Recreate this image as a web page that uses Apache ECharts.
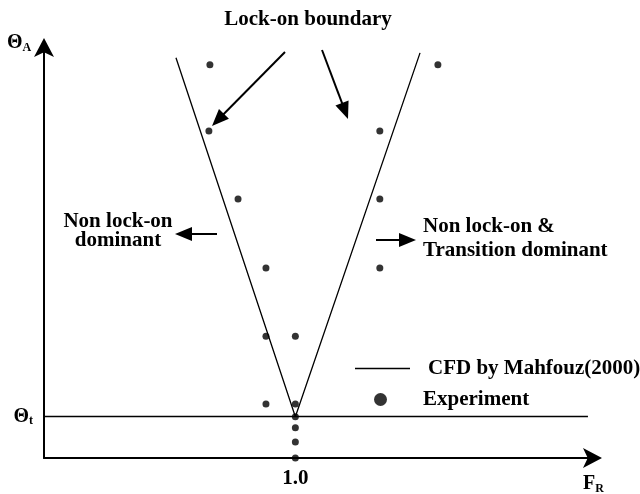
<!DOCTYPE html>
<html><head><meta charset="utf-8">
<script src="https://cdn.jsdelivr.net/npm/echarts@6/dist/echarts.min.js"></script>
<style>html,body{margin:0;padding:0;background:#fff}#c{width:640px;height:494px}</style>
</head><body><div id="c"></div>
<script>
// CFD lock-on boundary (V shape): [F_R, theta]
const cfdFR = [0.525, 1.0, 1.496];
const cfdTheta = [9.69, 1.0, 9.81];
// Experiment points
const expFR = [0.66, 1.567, 0.656, 1.336, 0.772, 1.336, 0.883, 1.336, 0.883, 1.0, 0.883, 1.0, 1.0, 1.0, 1.0, 1.0];
const expTheta = [9.52, 9.52, 7.92, 7.92, 6.27, 6.27, 4.6, 4.6, 2.95, 2.95, 1.31, 1.31, 1.0, 0.73, 0.39, 0.0];
const thetaT = 1.0;
const xTickLabel = '1.0';

const font = '"Liberation Serif", "Times New Roman", serif';
const chart = echarts.init(document.getElementById('c'));

function arrow(x1, y1, x2, y2) {
  const dx = x2 - x1, dy = y2 - y1, L = Math.hypot(dx, dy);
  const ux = dx / L, uy = dy / L, hl = 17, hw = 7;
  const bx = x2 - ux * hl, by = y2 - uy * hl;
  return [
    {type: 'line', shape: {x1, y1, x2: bx + ux * 2, y2: by + uy * 2}, style: {stroke: '#000', lineWidth: 2}},
    {type: 'polygon', shape: {points: [[x2, y2], [bx - uy * hw, by + ux * hw], [bx + uy * hw, by - ux * hw]]}, style: {fill: '#000'}}
  ];
}
const txt = (x, y, t, align) => ({type: 'text', x, y, style: {text: t, font: 'bold 21px ' + font, fill: '#000', align: align || 'center', verticalAlign: 'middle'}});
const legendText = (pl) => ({fontFamily: font, fontWeight: 'bold', fontSize: 21, color: '#000', padding: [0, 0, 0, pl]});

chart.setOption({
  animation: false,
  backgroundColor: '#fff',
  grid: {left: 44, right: 43, top: 45, bottom: 36, containLabel: false},
  xAxis: {
    type: 'value', min: 0, max: 2.2, interval: 0.5,
    splitLine: {show: false}, axisTick: {show: false},
    axisLine: {lineStyle: {color: '#000', width: 2}, symbol: ['none', 'arrow'], symbolSize: [15, 19], symbolOffset: [0, 5]},
    axisLabel: {
      customValues: [1.0],
      formatter: v => Math.abs(v - 1) < 1e-9 ? xTickLabel : '',
      color: '#000', fontFamily: font, fontWeight: 'bold', fontSize: 21, margin: 10
    }
  },
  yAxis: {
    type: 'value', min: 0, max: 10, interval: 1,
    splitLine: {show: false}, axisTick: {show: false},
    axisLine: {lineStyle: {color: '#000', width: 2}, symbol: ['none', 'arrow'], symbolSize: [15, 19], symbolOffset: [0, 7]},
    axisLabel: {
      formatter: v => Math.abs(v - thetaT) < 1e-9 ? '{a|Θ}{s|t}' : '',
      margin: 11,
      rich: {
        a: {fontFamily: font, fontWeight: 'bold', fontSize: 20, color: '#000'},
        s: {fontFamily: font, fontWeight: 'bold', fontSize: 12, color: '#000', padding: [9, 0, 0, 0]}
      }
    }
  },
  legend: [
    {
      orient: 'vertical', left: 350, top: 353, itemWidth: 55, itemHeight: 1.5,
      data: [{name: 'CFD by Mahfouz(2000)', icon: 'rect'}],
      textStyle: legendText(13)
    },
    {
      orient: 'vertical', left: 369, top: 384, itemWidth: 55, itemHeight: 13,
      data: [{name: 'Experiment', icon: 'circle'}],
      textStyle: legendText(10)
    }
  ],
  series: [
    {
      name: 'CFD by Mahfouz(2000)', type: 'line', symbol: 'none',
      data: cfdFR.map((x, i) => [x, cfdTheta[i]]),
      lineStyle: {color: '#000', width: 1.3}, itemStyle: {color: '#000'},
      markLine: {
        silent: true, symbol: 'none', label: {show: false},
        lineStyle: {color: '#000', width: 1.3, type: 'solid'},
        data: [[{coord: [0, thetaT]}, {coord: [2.164, thetaT]}]]
      }
    },
    {
      name: 'Experiment', type: 'scatter', symbolSize: 7,
      data: expFR.map((x, i) => [x, expTheta[i]]),
      itemStyle: {color: '#000'}
    }
  ],
  graphic: [
    txt(308, 20, 'Lock-on boundary'),
    ...arrow(285, 52, 212, 126),
    ...arrow(322, 50, 348, 119),
    txt(118, 222, 'Non lock-on'),
    txt(118, 241, 'dominant'),
    ...arrow(217, 234, 175, 234),
    ...arrow(376, 240, 416, 240),
    txt(423, 227, 'Non lock-on &', 'left'),
    txt(423, 251, 'Transition dominant', 'left'),
    {type: 'text', x: 7, y: 43, style: {rich: {a: {font: 'bold 20px ' + font, fill: '#000'}, s: {font: 'bold 12px ' + font, fill: '#000', padding: [9, 0, 0, 0]}}, text: '{a|Θ}{s|A}', verticalAlign: 'middle'}},
    {type: 'text', x: 583, y: 484, style: {rich: {a: {font: 'bold 20px ' + font, fill: '#000'}, s: {font: 'bold 12px ' + font, fill: '#000', padding: [9, 0, 0, 0]}}, text: '{a|F}{s|R}', verticalAlign: 'middle'}}
  ]
});
</script></body></html>
